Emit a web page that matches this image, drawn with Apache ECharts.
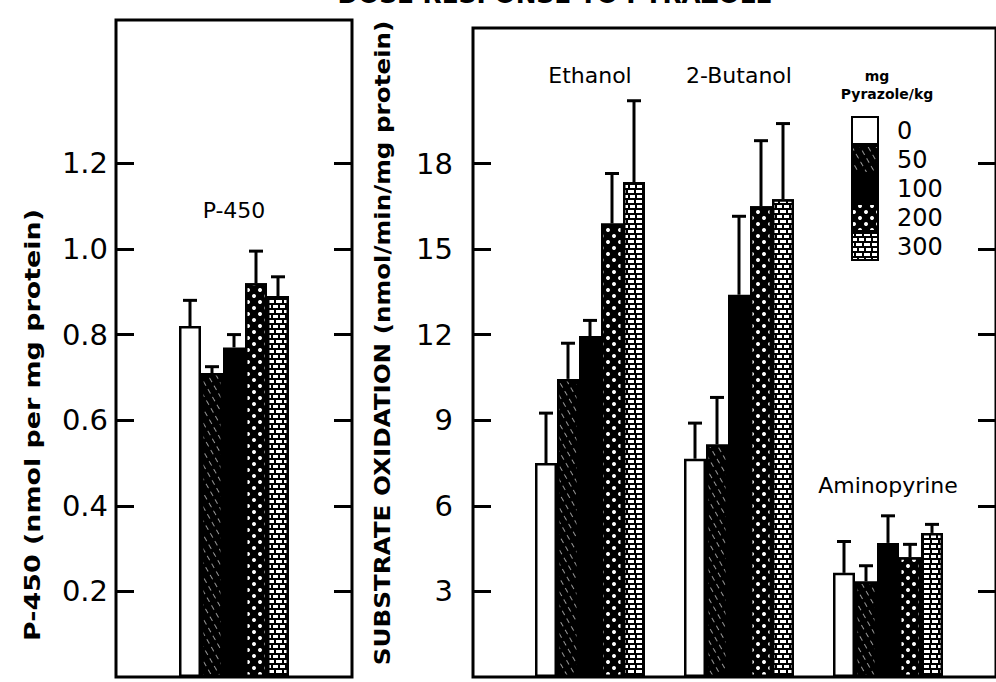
<!DOCTYPE html>
<html><head><meta charset="utf-8">
<script src="https://cdn.jsdelivr.net/npm/echarts@6/dist/echarts.min.js"></script>
<style>html,body{margin:0;padding:0;background:#fff}#chart{width:996px;height:682px}</style>
</head><body><div id="chart"></div>
<script>
// ---------- data ----------
const doses = ['0', '50', '100', '200', '300'];
const p450Category = ['P-450'];
const p450Mean  = [0.82, 0.71, 0.77, 0.92, 0.89];
const p450Upper = [0.88, 0.725, 0.80, 0.995, 0.935];
const substrates = ['Ethanol', '2-Butanol', 'Aminopyrine'];
const ethanolMean      = [7.5, 10.45, 11.95, 15.9, 17.35];
const ethanolUpper     = [9.25, 11.7, 12.5, 17.65, 20.2];
const butanolMean      = [7.65, 8.15, 13.4, 16.5, 16.75];
const butanolUpper     = [8.9, 9.8, 16.15, 18.8, 19.4];
const aminopyrineMean  = [3.65, 3.35, 4.7, 4.2, 5.05];
const aminopyrineUpper = [4.75, 3.9, 5.65, 4.65, 5.35];
const p450Ticks = [0.2, 0.4, 0.6, 0.8, 1.0, 1.2];
const oxidationTicks = [3, 6, 9, 12, 15, 18];
const p450LabelY = [1.09];
const substrateLabelY = [21.1, 21.1, 6.7];
const titleText = 'DOSE RESPONSE TO PYRAZOLE';
const p450AxisName = 'P-450 (nmol per mg protein)';
const oxAxisName = 'SUBSTRATE OXIDATION (nmol/min/mg protein)';
const legendHeader = ['mg', 'Pyrazole/kg'];

// ---------- style ----------
const FONT = 'DejaVu Sans';
const BAR_W = 22;
const P450_MAX = 1.535;
const OX_MAX = 22.75;
const fills = ['#ffffff', '#000000', '#000000', '#000000', '#000000'];
const decals = [
  null,
  {symbol: 'rect', symbolSize: 1, color: 'rgba(255,255,255,0.6)', dashArrayX: [5, 4], dashArrayY: [1, 6], rotation: Math.PI / 3},
  null,
  {symbol: 'circle', symbolSize: 1, color: '#ffffff', dashArrayX: [[3.8, 7.2], [0, 5.5, 3.8, 1.7]], dashArrayY: [3.8, 1.8], rotation: 0},
  {symbol: 'rect', symbolSize: 1, color: '#ffffff', dashArrayX: [[5, 2], [1.5, 2, 3.5, 0]], dashArrayY: [3, 1.4], rotation: 0}
];

function itemStyleFor(d) {
  const s = {color: fills[d], borderColor: '#000', borderWidth: 2.5};
  if (decals[d]) s.decal = decals[d];
  return s;
}

const measureCtx = document.createElement('canvas').getContext('2d');
function fitScale(text, font, target) {
  measureCtx.font = font;
  return target / measureCtx.measureText(text).width;
}

function errRender(params, api) {
  const cat = api.value(0), d = api.value(1), mean = api.value(2), up = api.value(3);
  const base = api.coord([cat, mean]);
  const top = api.coord([cat, up]);
  const x = base[0] + (d - 2) * BAR_W;
  const cap = 7;
  const ls = {stroke: '#000', lineWidth: 3};
  return {type: 'group', children: [
    {type: 'line', shape: {x1: x, y1: base[1], x2: x, y2: top[1]}, style: ls},
    {type: 'line', shape: {x1: x - cap, y1: top[1], x2: x + cap, y2: top[1]}, style: ls}
  ]};
}

const series = [];
doses.forEach((dose, d) => {
  series.push({
    name: dose, type: 'bar', xAxisIndex: 0, yAxisIndex: 0,
    barWidth: BAR_W, barGap: '0%', itemStyle: itemStyleFor(d),
    data: [p450Mean[d]], z: 2
  });
});
doses.forEach((dose, d) => {
  series.push({
    name: dose, type: 'bar', xAxisIndex: 2, yAxisIndex: 4,
    barWidth: BAR_W, barGap: '0%', itemStyle: itemStyleFor(d),
    data: [ethanolMean[d], butanolMean[d], aminopyrineMean[d]], z: 2
  });
});
const p450Err = doses.map((_, d) => [0, d, p450Mean[d], p450Upper[d]]);
const oxMeans = [ethanolMean, butanolMean, aminopyrineMean];
const oxUppers = [ethanolUpper, butanolUpper, aminopyrineUpper];
const oxErr = [];
substrates.forEach((_, c) => doses.forEach((_, d) => oxErr.push([c, d, oxMeans[c][d], oxUppers[c][d]])));
series.push({type: 'custom', xAxisIndex: 0, yAxisIndex: 0, renderItem: errRender, data: p450Err, encode: {x: 0, y: 3}, z: 5, silent: true});
series.push({type: 'custom', xAxisIndex: 2, yAxisIndex: 4, renderItem: errRender, data: oxErr, encode: {x: 0, y: 3}, z: 5, silent: true});

const labelStyle = {show: true, position: 'inside', color: '#000', fontFamily: FONT, fontSize: 22, opacity: 1};
series.push({type: 'scatter', xAxisIndex: 0, yAxisIndex: 0, symbolSize: 0, silent: true,
  itemStyle: {opacity: 1},
  data: p450Category.map((c, i) => [i, p450LabelY[i]]),
  label: Object.assign({formatter: p => p450Category[p.dataIndex]}, labelStyle)});
series.push({type: 'scatter', xAxisIndex: 2, yAxisIndex: 4, symbolSize: 0, silent: true,
  itemStyle: {opacity: 1},
  data: substrates.map((c, i) => [i, substrateLabelY[i]]),
  label: Object.assign({formatter: p => substrates[p.dataIndex]}, labelStyle)});

function yAx(grid, max, side, ticks, labels, fmt, margin) {
  return {
    type: 'value', gridIndex: grid, min: 0, max: max, position: side,
    splitLine: {show: false}, axisLine: {show: false},
    axisTick: {show: true, inside: true, length: 18, lineStyle: {color: '#000', width: 3}, customValues: ticks},
    axisLabel: {show: labels, customValues: ticks, color: '#000', fontFamily: FONT, fontSize: 29, margin: margin, formatter: fmt}
  };
}

const titleFont = 'bold 24px "' + FONT + '"';
const nameFontL = 'bold 22px "' + FONT + '"';
const nameFontR = 'bold 21px "' + FONT + '"';
const headFont = 'bold 14px "' + FONT + '"';

const option = {
  animation: false,
  backgroundColor: '#fff',
  grid: [
    {left: 116, top: 20, width: 236, bottom: 5, show: true, borderColor: '#000', borderWidth: 3, backgroundColor: 'transparent'},
    {left: 473, top: 28, width: 530, bottom: 5, show: true, borderColor: '#000', borderWidth: 3, backgroundColor: 'transparent'},
    {left: 515.5, top: 28, width: 447, bottom: 5}
  ],
  xAxis: [
    {type: 'category', gridIndex: 0, data: p450Category, show: false},
    {type: 'category', gridIndex: 1, data: [''], show: false},
    {type: 'category', gridIndex: 2, data: substrates, show: false}
  ],
  yAxis: [
    yAx(0, P450_MAX, 'left', p450Ticks, true, v => v.toFixed(1), 8),
    yAx(0, P450_MAX, 'right', p450Ticks, false, null, 8),
    yAx(1, OX_MAX, 'left', oxidationTicks, true, v => String(v), 20),
    yAx(1, OX_MAX, 'right', oxidationTicks, false, null, 8),
    {type: 'value', gridIndex: 2, min: 0, max: OX_MAX, show: false, splitLine: {show: false}}
  ],
  legend: {
    data: doses, orient: 'vertical', left: 851, top: 116, padding: 0,
    itemWidth: 26, itemHeight: 27, itemGap: 0, icon: 'rect', selectedMode: false,
    itemStyle: {borderColor: '#000', borderWidth: 2},
    textStyle: {fontSize: 24, fontFamily: FONT, color: '#000', width: 46, align: 'center', lineHeight: 27, padding: [0, 0, 0, 14]}
  },
  graphic: [
    {type: 'text', x: 555, y: 7, scaleX: fitScale(titleText, titleFont, 435),
      style: {text: titleText, font: titleFont, fill: '#000', align: 'center', verticalAlign: 'bottom'}},
    {type: 'text', x: 32, y: 425, rotation: Math.PI / 2, scaleX: fitScale(p450AxisName, nameFontL, 432),
      style: {text: p450AxisName, font: nameFontL, fill: '#000', align: 'center', verticalAlign: 'middle'}},
    {type: 'text', x: 383, y: 343, rotation: Math.PI / 2, scaleX: fitScale(oxAxisName, nameFontR, 645),
      style: {text: oxAxisName, font: nameFontR, fill: '#000', align: 'center', verticalAlign: 'middle'}},
    {type: 'text', x: 877, y: 76, style: {text: legendHeader[0], font: headFont, fill: '#000', align: 'center', verticalAlign: 'middle'}},
    {type: 'text', x: 887, y: 94, style: {text: legendHeader[1], font: headFont, fill: '#000', align: 'center', verticalAlign: 'middle'}}
  ],
  series: series
};

const chart = echarts.init(document.getElementById('chart'), null, {renderer: 'svg', width: 996, height: 682});
chart.setOption(option);
</script>
</body></html>
